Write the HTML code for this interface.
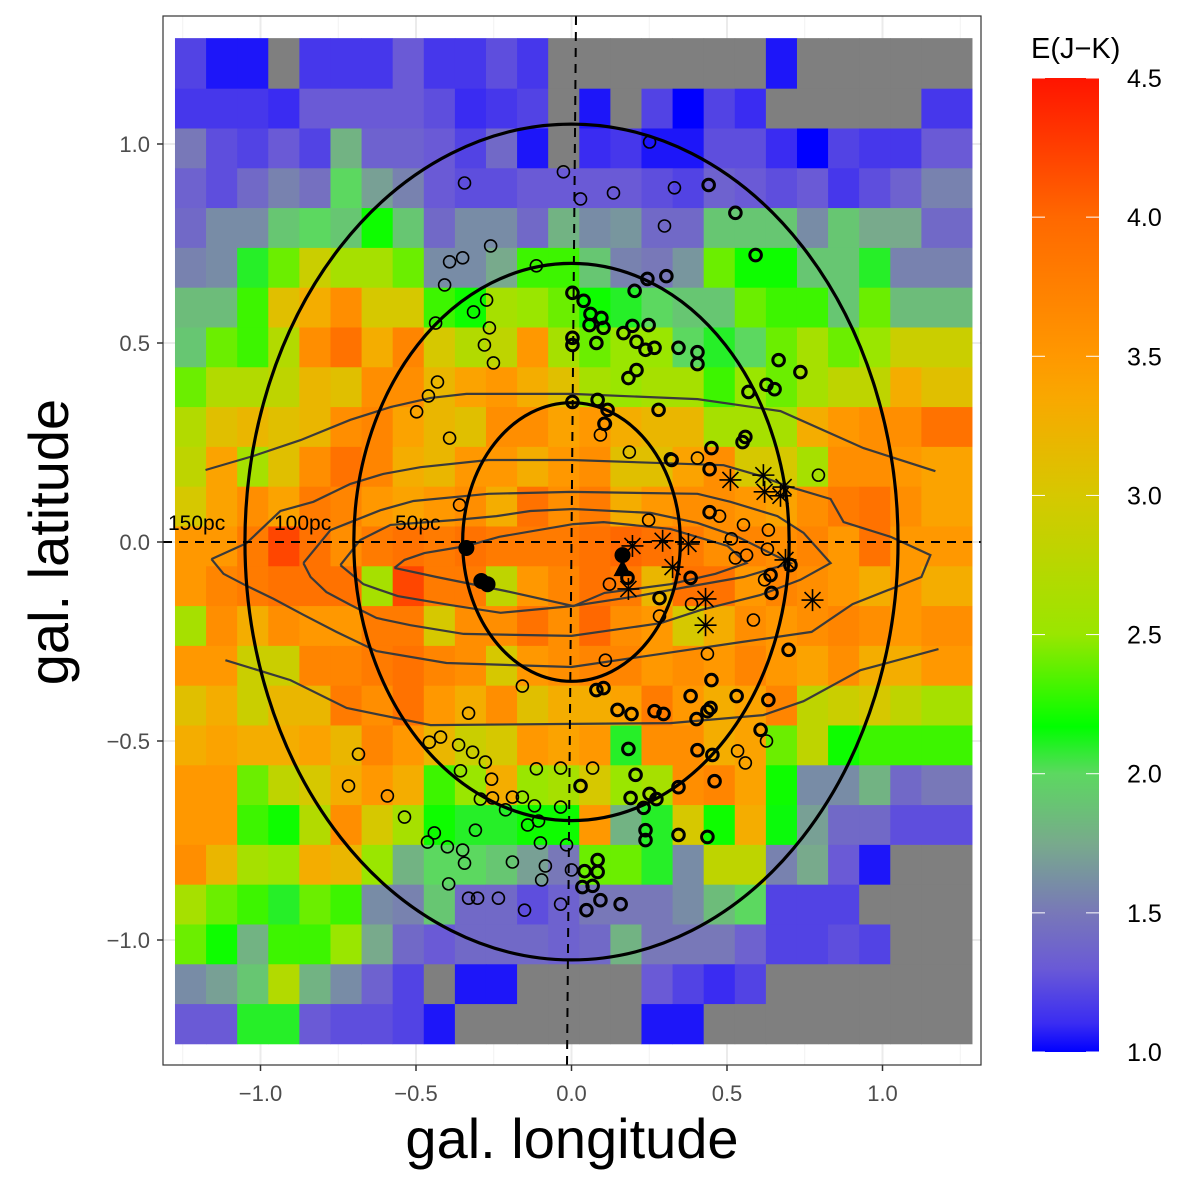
<!DOCTYPE html>
<html><head><meta charset="utf-8"><style>
body{margin:0;background:#fff;}
svg{display:block;font-family:"Liberation Sans",Arial,sans-serif;}
</style></head><body>
<svg id="chart" width="1200" height="1178" viewBox="0 0 1200 1178" xmlns="http://www.w3.org/2000/svg">
<defs>
<linearGradient id="cbar" x1="0" y1="1" x2="0" y2="0">
<stop offset="0" stop-color="#0000ff"/>
<stop offset="0.029" stop-color="#3a2cf2"/>
<stop offset="0.086" stop-color="#6a5ad6"/>
<stop offset="0.143" stop-color="#7878b8"/>
<stop offset="0.214" stop-color="#78aa8c"/>
<stop offset="0.286" stop-color="#5cd860"/>
<stop offset="0.334" stop-color="#00ff00"/>
<stop offset="0.429" stop-color="#9ae600"/>
<stop offset="0.571" stop-color="#d6c800"/>
<stop offset="0.671" stop-color="#f9a800"/>
<stop offset="0.714" stop-color="#ff9800"/>
<stop offset="0.857" stop-color="#ff6800"/>
<stop offset="1" stop-color="#ff1400"/>
</linearGradient>
<clipPath id="panelClip"><rect x="163" y="16" width="818" height="1049"/></clipPath>
</defs>
<rect x="163" y="16" width="818" height="1049" fill="#fff"/>
<g id="grid"></g>
<g id="heat"></g>
<g id="contours" clip-path="url(#panelClip)"></g>
<g id="ellipses"></g>
<g id="refs"></g>
<g id="points"></g>
<rect x="163" y="16" width="818" height="1049" fill="none" stroke="#333" stroke-width="1.2"/>
<g id="axes"></g>
<text x="572" y="1158" font-size="56" text-anchor="middle" fill="#000">gal. longitude</text>
<text x="0" y="0" font-size="56" text-anchor="middle" fill="#000" transform="translate(68,542) rotate(-90)">gal. latitude</text>
<g>
<text x="1031" y="58" font-size="29" fill="#000">E(J−K)</text>
<rect x="1032" y="78" width="67" height="974" fill="url(#cbar)"/>
<g id="cbticks"></g>
</g>
<text x="168" y="530" font-size="21" fill="#000">150pc</text>
<text x="274" y="530" font-size="21" fill="#000">100pc</text>
<text x="395" y="530" font-size="21" fill="#000">50pc</text>
</svg>
<script>
const N=null;
const heatRows=[
[1.2,1.05,1.05,N,1.15,1.15,1.15,1.3,1.15,1.15,1.25,1.15,N,N,N,N,N,N,N,1.05,N,N,N,N,N],
[1.15,1.15,1.15,1.1,1.3,1.3,1.3,1.3,1.25,1.1,1.15,1.2,N,1.05,N,1.2,1.0,1.2,1.1,N,N,N,N,N,1.15],
[1.5,1.25,1.2,1.3,1.2,1.8,1.35,1.35,1.3,1.2,1.4,1.05,N,1.1,1.15,1.05,1.05,1.25,1.25,1.1,1.0,1.2,1.15,1.15,1.3],
[1.35,1.25,1.4,1.55,1.45,2.0,1.7,1.55,1.3,1.25,1.25,1.3,1.3,1.3,1.3,1.25,1.2,1.35,1.3,1.25,1.3,1.15,1.25,1.35,1.55],
[1.4,1.6,1.6,1.9,2.0,1.9,2.2,1.9,1.4,1.6,1.6,1.4,1.8,1.6,1.65,1.4,1.4,1.9,1.9,1.9,1.6,1.9,1.75,1.75,1.4],
[1.55,1.6,2.1,2.4,2.9,2.6,2.6,2.4,1.6,1.6,1.75,2.3,2.3,1.9,1.55,1.5,1.65,2.4,2.2,2.2,1.9,1.9,2.1,1.55,1.55],
[1.85,1.85,2.3,3.1,3.3,3.6,3.0,3.0,2.3,2.2,2.6,2.5,2.4,2.2,2.1,2.0,1.9,1.9,2.4,2.3,2.3,1.9,2.4,1.85,1.85],
[1.9,2.4,2.3,2.7,3.6,3.9,3.3,3.7,3.0,2.7,2.8,3.5,2.6,2.4,2.5,2.5,2.0,2.1,2.0,2.4,2.6,2.4,2.5,2.9,2.9],
[2.4,2.7,2.7,2.8,3.2,3.1,3.6,3.6,3.2,3.4,3.5,3.3,3.1,2.6,2.5,2.6,2.6,2.3,2.5,2.4,2.6,2.8,2.8,3.3,3.1],
[2.7,3.1,3.2,3.1,3.2,3.6,3.7,3.4,3.2,3.1,3.6,3.6,3.4,3.5,3.3,3.2,3.2,2.6,2.6,2.6,3.3,3.5,3.6,3.6,3.9],
[2.8,3.4,2.6,3.1,3.6,3.9,3.7,3.3,3.2,3.5,3.5,3.3,3.5,3.6,3.1,3.1,3.4,3.6,3.0,3.0,2.6,3.6,3.6,3.5,3.4],
[3.0,3.4,3.6,3.4,3.8,3.7,3.5,3.4,3.5,3.6,3.3,3.9,3.6,3.8,3.3,3.5,3.6,3.6,3.5,3.4,3.6,3.8,3.9,3.6,3.4],
[3.5,3.5,3.8,4.2,3.9,3.6,3.8,3.9,3.8,3.9,3.8,3.8,3.8,3.9,4.0,3.9,3.8,3.6,3.7,3.6,3.7,3.5,3.9,3.5,3.5],
[3.5,3.7,3.8,3.9,3.9,3.9,2.6,4.2,3.8,3.8,2.8,3.5,3.7,3.9,3.8,3.2,3.9,3.9,3.5,3.7,3.6,3.5,3.3,3.5,3.3],
[2.6,3.6,3.3,3.6,3.5,3.5,3.8,3.8,3.0,3.6,3.6,3.9,3.6,4.0,3.6,3.5,3.0,3.3,3.6,3.5,3.6,3.7,3.6,3.5,3.6],
[3.5,3.5,2.9,2.9,3.7,3.7,3.8,3.9,3.7,3.6,3.0,3.5,3.6,3.7,3.7,3.5,3.6,3.5,3.7,3.5,3.4,3.6,3.3,3.3,3.5],
[3.1,3.3,2.9,3.2,3.2,3.8,3.6,3.9,3.5,3.3,3.6,3.1,3.3,3.3,3.4,3.8,3.5,3.3,3.4,3.7,2.8,2.9,3.0,2.8,2.6],
[3.3,3.4,3.3,3.3,3.4,3.2,3.7,3.5,3.2,2.9,3.0,3.5,3.4,3.5,2.1,3.6,3.6,3.3,3.4,2.4,2.8,2.2,2.3,2.3,2.3],
[3.5,3.5,2.4,2.8,3.0,3.3,3.5,3.3,2.3,2.5,3.3,2.5,2.6,3.0,2.5,2.6,3.6,3.7,3.4,2.2,1.6,1.6,1.8,1.4,1.5],
[3.5,3.5,2.3,2.2,2.7,3.6,3.0,2.6,2.2,2.1,2.1,2.2,2.2,3.5,1.8,2.1,3.0,2.2,3.3,2.15,1.7,1.4,1.4,1.25,1.25],
[3.6,3.2,2.6,2.5,3.3,3.2,2.5,1.8,2.0,2.0,1.9,1.7,1.5,2.4,2.4,2.1,1.6,2.8,2.8,1.55,1.75,1.3,1.05,N,N],
[2.6,2.4,2.3,2.1,2.4,2.3,1.6,1.55,1.9,1.4,1.4,1.25,1.35,1.5,1.5,1.5,1.6,1.85,2.0,1.2,1.2,1.2,N,N,N],
[2.4,2.2,1.8,2.3,2.3,2.5,1.75,1.4,1.3,1.4,1.4,1.4,1.35,1.4,1.8,1.5,1.5,1.5,1.35,1.2,1.2,1.25,1.2,N,N],
[1.6,1.7,1.9,2.7,1.8,1.6,1.35,1.2,N,1.05,1.05,N,N,N,N,1.3,1.2,1.1,1.2,N,N,N,N,N,N],
[1.3,1.3,2.1,2.1,1.3,1.25,1.25,1.2,1.05,N,N,N,N,N,N,1.05,1.05,N,N,N,N,N,N,N,N]
];
const xTicks=[-1.0,-0.5,0.0,0.5,1.0];
const yTicks=[1.0,0.5,0.0,-0.5,-1.0];
const xTickLabels=["−1.0","−0.5","0.0","0.5","1.0"];
const yTickLabels=["1.0","0.5","0.0","−0.5","−1.0"];
const cbTicks=[4.5,4.0,3.5,3.0,2.5,2.0,1.5,1.0];
const ellipseRadii=[0.35,0.70,1.05];
const thinLon=[-0.344,-0.392,-0.35,-0.26,-0.408,-0.315,-0.437,-0.273,-0.264,-0.28,-0.251,-0.431,-0.46,-0.498,-0.392,-0.36,-0.026,0.029,0.135,0.251,0.299,0.331,-0.113,0.186,0.318,0.405,0.794,0.109,0.093,0.248,0.476,0.514,0.563,0.553,0.633,0.585,0.437,0.283,0.386,0.109,0.122,-0.158,-0.331,-0.363,-0.318,-0.357,-0.277,-0.257,-0.293,-0.254,-0.421,-0.457,-0.685,-0.717,-0.592,-0.537,-0.463,-0.441,-0.399,-0.35,-0.344,-0.395,-0.331,-0.302,-0.235,-0.19,-0.151,-0.096,-0.084,-0.035,0.0,-0.016,-0.1,-0.141,-0.106,-0.119,-0.158,-0.19,-0.212,-0.309,-0.113,-0.035,-0.035,0.068,0.534,0.627,0.559,0.527,0.63,0.621];
const thinLat=[0.902,0.704,0.714,0.744,0.646,0.578,0.55,0.608,0.538,0.495,0.45,0.402,0.367,0.327,0.261,0.093,0.93,0.862,0.877,1.005,0.794,0.89,0.694,0.226,0.209,0.211,0.168,0.297,0.269,0.055,0.065,0.008,-0.033,0.043,0.03,-0.196,-0.281,-0.186,-0.156,-0.297,-0.106,-0.362,-0.43,-0.51,-0.528,-0.575,-0.553,-0.596,-0.646,-0.643,-0.49,-0.503,-0.533,-0.613,-0.638,-0.691,-0.754,-0.731,-0.766,-0.774,-0.807,-0.859,-0.895,-0.895,-0.895,-0.804,-0.925,-0.849,-0.814,-0.91,-0.824,-0.761,-0.756,-0.711,-0.701,-0.663,-0.641,-0.641,-0.673,-0.724,-0.57,-0.568,-0.666,-0.568,-0.525,-0.5,-0.555,-0.04,-0.018,-0.095];
const thickLon=[0.441,0.527,0.592,0.305,0.244,0.203,0.003,0.039,0.061,0.096,0.103,0.058,0.196,0.248,0.209,0.167,0.238,0.267,0.209,0.183,0.344,0.405,0.405,0.666,0.627,0.736,0.653,0.569,0.559,0.55,0.45,0.444,0.322,0.28,0.084,0.116,0.106,0.003,0.003,0.003,0.08,0.029,0.183,0.206,0.251,0.273,0.344,0.344,0.437,0.46,0.405,0.453,0.608,0.633,0.45,0.447,0.531,0.437,0.383,0.698,0.402,0.19,0.232,0.238,0.238,0.084,0.084,0.042,0.068,0.093,0.048,0.158,0.035,0.383,0.444,0.64,0.643,0.08,0.103,0.148,0.193,0.267,0.296,0.283,0.18,0.704];
const thickLat=[0.897,0.827,0.721,0.668,0.661,0.631,0.626,0.606,0.573,0.563,0.538,0.545,0.543,0.545,0.503,0.525,0.483,0.488,0.432,0.412,0.488,0.477,0.447,0.457,0.395,0.427,0.384,0.377,0.264,0.251,0.236,0.183,0.206,0.332,0.357,0.332,0.297,0.352,0.495,0.513,0.5,-0.613,-0.52,-0.585,-0.633,-0.646,-0.616,-0.736,-0.741,-0.601,-0.523,-0.535,-0.472,-0.397,-0.347,-0.417,-0.387,-0.425,-0.387,-0.271,-0.445,-0.643,-0.668,-0.724,-0.749,-0.829,-0.799,-0.827,-0.864,-0.9,-0.925,-0.91,-0.867,-0.09,0.075,-0.083,-0.128,-0.372,-0.367,-0.422,-0.432,-0.425,-0.432,-0.141,-0.09,-0.058];
const filledLon=[-0.338,-0.29,-0.27,0.164];
const filledLat=[-0.015,-0.098,-0.106,-0.033];
const triLon=[0.164];
const triLat=[-0.068];
const starLon=[0.196,0.293,0.376,0.325,0.183,0.431,0.431,0.688,0.775,0.511,0.617,0.621,0.672,0.682];
const starLat=[-0.01,0.003,-0.005,-0.063,-0.118,-0.143,-0.209,-0.045,-0.146,0.156,0.168,0.126,0.116,0.138];
const c1UpLon=[-1.177,-1.023,-0.871,-0.711,-0.582,-0.453,-0.338,-0.228,0,0.405,0.672,0.939,1.17];
const c1UpLat=[0.181,0.216,0.256,0.307,0.339,0.362,0.372,0.372,0.372,0.359,0.329,0.236,0.178];
const c1LoLon=[-1.113,-0.904,-0.723,-0.453,0.006,0.318,0.617,0.746,0.929,1.18];
const c1LoLat=[-0.297,-0.347,-0.417,-0.46,-0.457,-0.455,-0.435,-0.4,-0.322,-0.269];
const c2Lon=[-1.158,-1.045,-0.936,-0.83,-0.711,-0.605,-0.486,-0.267,0,0.489,0.598,0.704,0.833,0.875,1.026,1.154,1.125,0.904,0.772,0.55,0,-0.402,-0.627,-0.756,-0.862,-0.958,-1.055,-1.119,-1.158];
const c2Lat=[-0.043,-0.003,0.078,0.101,0.146,0.171,0.188,0.206,0.206,0.193,0.168,0.138,0.108,0.05,0.013,-0.033,-0.088,-0.156,-0.226,-0.251,-0.314,-0.304,-0.274,-0.226,-0.183,-0.143,-0.106,-0.08,-0.043];
const c3Lon=[-0.862,-0.775,-0.614,-0.508,-0.267,0,0.405,0.511,0.662,0.746,0.833,0.736,0.608,0.415,0.286,0,-0.347,-0.518,-0.627,-0.711,-0.788,-0.839,-0.862];
const c3Lat=[-0.053,0.03,0.08,0.103,0.121,0.126,0.121,0.101,0.065,0.023,-0.053,-0.095,-0.133,-0.171,-0.204,-0.236,-0.231,-0.209,-0.191,-0.158,-0.126,-0.088,-0.053];
const c4Lon=[-0.743,-0.679,-0.582,-0.379,-0.241,-0.132,0.006,0.254,0.405,0.534,0.704,0.553,0.37,0.212,0,-0.228,-0.392,-0.559,-0.669,-0.743];
const c4Lat=[-0.058,0.005,0.043,0.055,0.065,0.078,0.083,0.073,0.048,0.013,-0.053,-0.088,-0.113,-0.136,-0.161,-0.178,-0.158,-0.136,-0.106,-0.058];
const c5Lon=[-0.569,-0.537,-0.473,-0.338,-0.232,0.006,0.103,0.318,0.502,0.563,0.463,0.318,0.106,0.006,-0.212,-0.434,-0.569];
const c5Lat=[-0.065,-0.045,-0.028,-0.01,0.013,0.045,0.05,0.033,-0.01,-0.053,-0.08,-0.106,-0.128,-0.161,-0.123,-0.088,-0.065];

const NS="http://www.w3.org/2000/svg";
const X0=571.5, XS=311, Y0=542, YS=398;
function sx(v){return X0+v*XS;}
function sy(v){return Y0-v*YS;}
function cbY(v){return 1052-(v-1)/3.5*974;}
function mk(tag,attrs,parent){const e=document.createElementNS(NS,tag);for(const k in attrs)e.setAttribute(k,attrs[k]);parent.appendChild(e);return e;}
const stops=[[1.0,[0,0,255]],[1.1,[58,44,242]],[1.3,[106,90,214]],[1.5,[120,120,184]],[1.75,[120,170,140]],[2.0,[92,216,96]],[2.17,[0,255,0]],[2.5,[154,230,0]],[3.0,[214,200,0]],[3.35,[249,168,0]],[3.5,[255,152,0]],[4.0,[255,104,0]],[4.5,[255,20,0]]];
function color(v){if(v===null)return "#7f7f7f";v=Math.max(1,Math.min(4.5,v));for(let i=0;i<stops.length-1;i++){const a=stops[i],b=stops[i+1];if(v<=b[0]){const t=(v-a[0])/(b[0]-a[0]);const c=a[1].map((x,j)=>Math.round(x+(b[1][j]-x)*t));return "rgb("+c.join(",")+")";}}return "rgb(255,20,0)";}

const grid=document.getElementById('grid');
[-1.25,-0.75,-0.25,0.25,0.75,1.25].forEach(v=>{const l=mk('line',{x1:sx(v),x2:sx(v),y1:16,y2:1065,stroke:'#f2f2f2','stroke-width':1},grid);

});
xTicks.forEach(v=>{const l=mk('line',{x1:sx(v),x2:sx(v),y1:16,y2:1065,stroke:'#ebebeb','stroke-width':2},grid);

});
yTicks.forEach(v=>{const l=mk('line',{x1:163,x2:981,y1:sy(v),y2:sy(v),stroke:'#ebebeb','stroke-width':2},grid);

});

const heat=document.getElementById('heat');
const colEdges=[];for(let k=0;k<=24;k++)colEdges.push(-1.275+0.1*k);colEdges.push(1.288);
const rowEdges=[1.266];for(let r=0;r<=24;r++)rowEdges.push(1.139-0.1*r);
heatRows.forEach((row,r)=>{row.forEach((v,c)=>{
  const x1=sx(colEdges[c]),x2=sx(colEdges[c+1]),y1=sy(rowEdges[r]),y2=sy(rowEdges[r+1]);
  const rc=mk('rect',{x:x1.toFixed(2),y:y1.toFixed(2),width:(x2-x1+0.4).toFixed(2),height:(y2-y1+0.4).toFixed(2),fill:color(v)},heat);
  
  
});});

const cg=document.getElementById('contours');
[[c1UpLon,c1UpLat],[c1LoLon,c1LoLat],[c2Lon,c2Lat],[c3Lon,c3Lat],[c4Lon,c4Lat],[c5Lon,c5Lat]].forEach(([lo,la])=>{
  const d=lo.map((v,i)=>(i?'L':'M')+sx(v).toFixed(1)+','+sy(la[i]).toFixed(1)).join('');
  const p=mk('path',{d:d,fill:'none',stroke:'#3a3a3a','stroke-width':2.2},cg);
  
  
});

const eg=document.getElementById('ellipses');
ellipseRadii.forEach(r=>{const e=mk('ellipse',{cx:sx(0),cy:sy(0),rx:r*XS,ry:r*YS,fill:'none',stroke:'#000','stroke-width':3.2},eg);

});

const rg=document.getElementById('refs');
const hl=mk('line',{x1:163,x2:981,y1:sy(0),y2:sy(0),stroke:'#000','stroke-width':2,'stroke-dasharray':'9,7'},rg);


const vl=mk('line',{x1:576,x2:567,y1:16,y2:1065,stroke:'#000','stroke-width':2,'stroke-dasharray':'9,7'},rg);



const pg=document.getElementById('points');
thinLon.forEach((v,i)=>{const c=mk('circle',{cx:sx(v),cy:sy(thinLat[i]),r:6,fill:'none',stroke:'#000','stroke-width':1.6},pg);

});
thickLon.forEach((v,i)=>{const c=mk('circle',{cx:sx(v),cy:sy(thickLat[i]),r:5.8,fill:'none',stroke:'#000','stroke-width':3},pg);

});
filledLon.forEach((v,i)=>{const c=mk('circle',{cx:sx(v),cy:sy(filledLat[i]),r:8,fill:'#000'},pg);

});
triLon.forEach((v,i)=>{const x=sx(v),y=sy(triLat[i]);const t=mk('polygon',{points:`${x},${y-10} ${x-9},${y+7} ${x+9},${y+7}`,fill:'#000'},pg);

});
starLon.forEach((v,i)=>{const x=sx(v),y=sy(starLat[i]);const g=mk('g',{stroke:'#000','stroke-width':1.6},pg);


mk('line',{x1:x-11,x2:x+11,y1:y,y2:y},g);mk('line',{x1:x,x2:x,y1:y-11,y2:y+11},g);
mk('line',{x1:x-8,x2:x+8,y1:y-8,y2:y+8},g);mk('line',{x1:x-8,x2:x+8,y1:y+8,y2:y-8},g);});

const ag=document.getElementById('axes');
xTicks.forEach((v,i)=>{const l=mk('line',{x1:sx(v),x2:sx(v),y1:1065,y2:1071,stroke:'#333','stroke-width':1.5},ag);


const t=mk('text',{x:sx(v),y:1101,'font-size':22,'text-anchor':'middle',fill:'#4d4d4d'},ag);t.textContent=xTickLabels[i];

});
yTicks.forEach((v,i)=>{const l=mk('line',{x1:157,x2:163,y1:sy(v),y2:sy(v),stroke:'#333','stroke-width':1.5},ag);


const t=mk('text',{x:150,y:sy(v)+8,'font-size':22,'text-anchor':'end',fill:'#4d4d4d'},ag);t.textContent=yTickLabels[i];

});

const cb=document.getElementById('cbticks');
cbTicks.forEach(v=>{const y=cbY(v);
const a=mk('line',{x1:1032,x2:1045,y1:y,y2:y,stroke:'#fff','stroke-width':1},cb);


const b=mk('line',{x1:1086,x2:1099,y1:y,y2:y,stroke:'#fff','stroke-width':1},cb);


const t=mk('text',{x:1127,y:y+9,'font-size':25,fill:'#000'},cb);t.textContent=v.toFixed(1);

});
</script>
</body></html>
